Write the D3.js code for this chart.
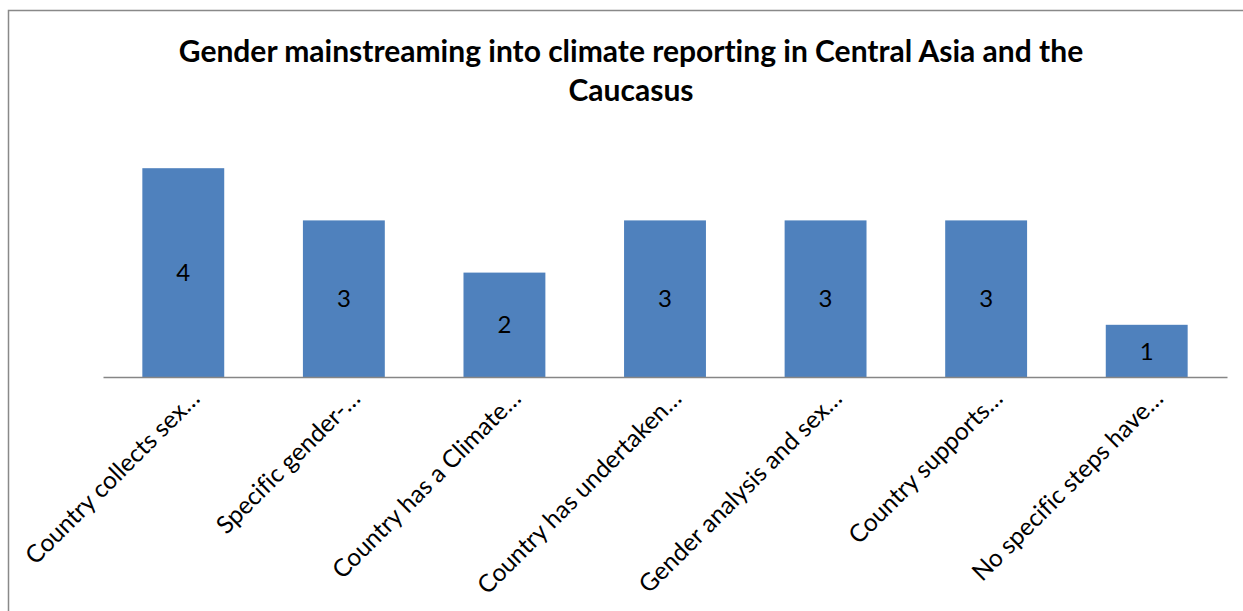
<!DOCTYPE html>
<html>
<head>
<meta charset="utf-8">
<script src="https://cdn.jsdelivr.net/npm/d3@7"></script>
<style>
  html, body { margin: 0; padding: 0; background: #ffffff; }
  svg { display: block; }
  text { font-variant-ligatures: none; font-feature-settings: "liga" 0; }
</style>
</head>
<body>
<div id="chart"></div>
<script>
// Chart content
const titleLines = [
  "Gender mainstreaming into climate reporting in Central Asia and the",
  "Caucasus"
];
const categories = [
  "Country collects sex…",
  "Specific gender-…",
  "Country has a Climate…",
  "Country has undertaken…",
  "Gender analysis and sex…",
  "Country supports…",
  "No specific steps have…"
];
const values = [4, 3, 2, 3, 3, 3, 1];
const yDomain = [0, 5];

// Layout
const W = 1243, H = 611;
const plot = { left: 103, right: 1227, top: 116, bottom: 377 };
const barColor = "#4F81BD";
const axisColor = "#868686";
const fontFamily = "Lato, 'Open Sans', 'Liberation Sans', sans-serif";

const svg = d3.select("#chart").append("svg")
  .attr("width", W)
  .attr("height", H);

// Outer chart frame (extends past the visible area on the right and bottom)
svg.append("rect")
  .attr("x", 8.5)
  .attr("y", 10.5)
  .attr("width", W + 20)
  .attr("height", H + 20)
  .attr("fill", "#ffffff")
  .attr("stroke", "#898989")
  .attr("stroke-width", 1.5);

const x = d3.scaleBand()
  .domain(categories)
  .range([plot.left, plot.right])
  .paddingInner(0.49)
  .paddingOuter(0.245);

const y = d3.scaleLinear()
  .domain(yDomain)
  .range([plot.bottom, plot.top]);

const data = categories.map((c, i) => ({ category: c, value: values[i] }));

// Bars
svg.append("g")
  .selectAll("rect")
  .data(data)
  .join("rect")
  .attr("x", d => x(d.category))
  .attr("y", d => y(d.value))
  .attr("width", x.bandwidth())
  .attr("height", d => y(0) - y(d.value))
  .attr("fill", barColor);

// Value labels centred in each bar
svg.append("g")
  .selectAll("text")
  .data(data)
  .join("text")
  .attr("x", d => x(d.category) + x.bandwidth() / 2)
  .attr("y", d => (y(d.value) + y(0)) / 2)
  .attr("dy", "0.36em")
  .attr("text-anchor", "middle")
  .attr("font-family", fontFamily)
  .attr("font-size", 24)
  .attr("fill", "#000000")
  .text(d => d.value);

// Category axis
const xAxis = d3.axisBottom(x).tickSize(0).tickPadding(0);
const gx = svg.append("g")
  .attr("transform", `translate(0,${plot.bottom})`)
  .call(xAxis);
gx.select(".domain")
  .attr("stroke", axisColor)
  .attr("stroke-width", 1.6);
gx.selectAll(".tick text")
  .attr("font-family", fontFamily)
  .attr("font-size", 24.5)
  .attr("fill", "#000000")
  .attr("text-anchor", "end")
  .attr("dy", null)
  .attr("y", 0)
  .attr("transform", "translate(18,23) rotate(-45)");

// Title
svg.append("g")
  .selectAll("text")
  .data(titleLines)
  .join("text")
  .attr("x", 631)
  .attr("y", (d, i) => 62 + i * 39)
  .attr("text-anchor", "middle")
  .attr("font-family", fontFamily)
  .attr("font-weight", "bold")
  .attr("font-size", 30)
  .attr("fill", "#000000")
  .text(d => d);
</script>
</body>
</html>
